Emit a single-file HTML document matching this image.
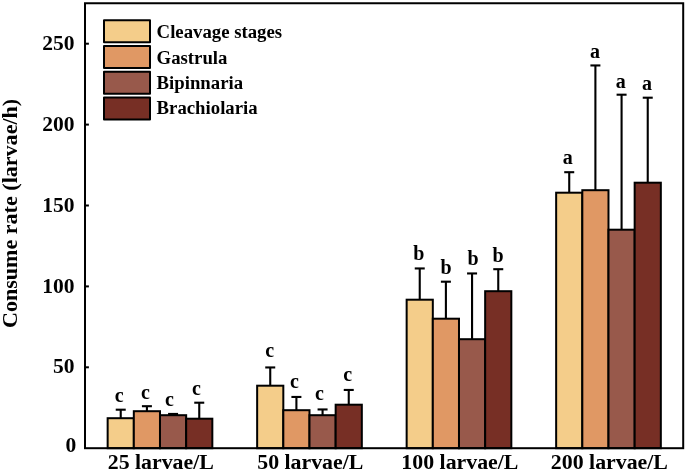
<!DOCTYPE html>
<html><head><meta charset="utf-8"><title>Consume rate</title>
<style>
html,body{margin:0;padding:0;background:#fff;}
svg{display:block;will-change:transform;}
text{font-family:"Liberation Serif","Times New Roman",serif;font-weight:bold;fill:#000;}
</style></head><body>
<svg width="685" height="471" viewBox="0 0 685 471">
<rect width="685" height="471" fill="#fff"/>

<g transform="translate(0.5,0.7)">
<line x1="120.23" y1="417.50" x2="120.23" y2="409.00" stroke="#000" stroke-width="2.1"/>
<line x1="115.23" y1="409.00" x2="125.23" y2="409.00" stroke="#000" stroke-width="2.1"/>
<line x1="146.41" y1="410.50" x2="146.41" y2="405.50" stroke="#000" stroke-width="2.1"/>
<line x1="141.41" y1="405.50" x2="151.41" y2="405.50" stroke="#000" stroke-width="2.1"/>
<line x1="172.58" y1="414.50" x2="172.58" y2="413.25" stroke="#000" stroke-width="2.1"/>
<line x1="167.58" y1="413.25" x2="177.58" y2="413.25" stroke="#000" stroke-width="2.1"/>
<line x1="198.75" y1="418.00" x2="198.75" y2="402.00" stroke="#000" stroke-width="2.1"/>
<line x1="193.75" y1="402.00" x2="203.75" y2="402.00" stroke="#000" stroke-width="2.1"/>
<rect x="107.15" y="417.50" width="26.17" height="30.00" fill="#F4CD8A" stroke="#000" stroke-width="2"/>
<rect x="133.32" y="410.50" width="26.17" height="37.00" fill="#E09864" stroke="#000" stroke-width="2"/>
<rect x="159.49" y="414.50" width="26.17" height="33.00" fill="#98594B" stroke="#000" stroke-width="2"/>
<rect x="185.66" y="418.00" width="26.17" height="29.50" fill="#772F25" stroke="#000" stroke-width="2"/>
<text x="118.75" y="401.00" font-size="20" text-anchor="middle">c</text>
<text x="145.00" y="398.00" font-size="20" text-anchor="middle">c</text>
<text x="169.00" y="405.00" font-size="20" text-anchor="middle">c</text>
<text x="196.00" y="394.00" font-size="20" text-anchor="middle">c</text>
<line x1="269.74" y1="385.00" x2="269.74" y2="366.75" stroke="#000" stroke-width="2.1"/>
<line x1="264.74" y1="366.75" x2="274.74" y2="366.75" stroke="#000" stroke-width="2.1"/>
<line x1="295.90" y1="409.50" x2="295.90" y2="396.25" stroke="#000" stroke-width="2.1"/>
<line x1="290.90" y1="396.25" x2="300.90" y2="396.25" stroke="#000" stroke-width="2.1"/>
<line x1="322.07" y1="414.50" x2="322.07" y2="408.75" stroke="#000" stroke-width="2.1"/>
<line x1="317.07" y1="408.75" x2="327.07" y2="408.75" stroke="#000" stroke-width="2.1"/>
<line x1="348.25" y1="404.00" x2="348.25" y2="389.25" stroke="#000" stroke-width="2.1"/>
<line x1="343.25" y1="389.25" x2="353.25" y2="389.25" stroke="#000" stroke-width="2.1"/>
<rect x="256.65" y="385.00" width="26.17" height="62.50" fill="#F4CD8A" stroke="#000" stroke-width="2"/>
<rect x="282.82" y="409.50" width="26.17" height="38.00" fill="#E09864" stroke="#000" stroke-width="2"/>
<rect x="308.99" y="414.50" width="26.17" height="33.00" fill="#98594B" stroke="#000" stroke-width="2"/>
<rect x="335.16" y="404.00" width="26.17" height="43.50" fill="#772F25" stroke="#000" stroke-width="2"/>
<text x="269.25" y="356.75" font-size="20" text-anchor="middle">c</text>
<text x="294.00" y="387.40" font-size="20" text-anchor="middle">c</text>
<text x="319.00" y="399.25" font-size="20" text-anchor="middle">c</text>
<text x="347.25" y="380.50" font-size="20" text-anchor="middle">c</text>
<line x1="419.24" y1="299.00" x2="419.24" y2="267.75" stroke="#000" stroke-width="2.1"/>
<line x1="414.24" y1="267.75" x2="424.24" y2="267.75" stroke="#000" stroke-width="2.1"/>
<line x1="445.40" y1="318.00" x2="445.40" y2="281.00" stroke="#000" stroke-width="2.1"/>
<line x1="440.40" y1="281.00" x2="450.40" y2="281.00" stroke="#000" stroke-width="2.1"/>
<line x1="471.57" y1="338.50" x2="471.57" y2="272.75" stroke="#000" stroke-width="2.1"/>
<line x1="466.57" y1="272.75" x2="476.57" y2="272.75" stroke="#000" stroke-width="2.1"/>
<line x1="497.75" y1="290.50" x2="497.75" y2="268.50" stroke="#000" stroke-width="2.1"/>
<line x1="492.75" y1="268.50" x2="502.75" y2="268.50" stroke="#000" stroke-width="2.1"/>
<rect x="406.15" y="299.00" width="26.17" height="148.50" fill="#F4CD8A" stroke="#000" stroke-width="2"/>
<rect x="432.32" y="318.00" width="26.17" height="129.50" fill="#E09864" stroke="#000" stroke-width="2"/>
<rect x="458.49" y="338.50" width="26.17" height="109.00" fill="#98594B" stroke="#000" stroke-width="2"/>
<rect x="484.66" y="290.50" width="26.17" height="157.00" fill="#772F25" stroke="#000" stroke-width="2"/>
<text x="418.25" y="259.25" font-size="20" text-anchor="middle">b</text>
<text x="445.50" y="273.75" font-size="20" text-anchor="middle">b</text>
<text x="472.50" y="264.50" font-size="20" text-anchor="middle">b</text>
<text x="497.50" y="261.75" font-size="20" text-anchor="middle">b</text>
<line x1="568.73" y1="192.00" x2="568.73" y2="171.50" stroke="#000" stroke-width="2.1"/>
<line x1="563.73" y1="171.50" x2="573.73" y2="171.50" stroke="#000" stroke-width="2.1"/>
<line x1="594.90" y1="189.50" x2="594.90" y2="64.75" stroke="#000" stroke-width="2.1"/>
<line x1="589.90" y1="64.75" x2="599.90" y2="64.75" stroke="#000" stroke-width="2.1"/>
<line x1="621.08" y1="229.00" x2="621.08" y2="94.00" stroke="#000" stroke-width="2.1"/>
<line x1="616.08" y1="94.00" x2="626.08" y2="94.00" stroke="#000" stroke-width="2.1"/>
<line x1="647.24" y1="182.00" x2="647.24" y2="97.00" stroke="#000" stroke-width="2.1"/>
<line x1="642.24" y1="97.00" x2="652.24" y2="97.00" stroke="#000" stroke-width="2.1"/>
<rect x="555.65" y="192.00" width="26.17" height="255.50" fill="#F4CD8A" stroke="#000" stroke-width="2"/>
<rect x="581.82" y="189.50" width="26.17" height="258.00" fill="#E09864" stroke="#000" stroke-width="2"/>
<rect x="607.99" y="229.00" width="26.17" height="218.50" fill="#98594B" stroke="#000" stroke-width="2"/>
<rect x="634.16" y="182.00" width="26.17" height="265.50" fill="#772F25" stroke="#000" stroke-width="2"/>
<text x="567.25" y="163.25" font-size="20" text-anchor="middle">a</text>
<text x="594.50" y="57.50" font-size="20" text-anchor="middle">a</text>
<text x="620.25" y="87.50" font-size="20" text-anchor="middle">a</text>
<text x="646.50" y="89.50" font-size="20" text-anchor="middle">a</text>
<rect x="84.5" y="2.55" width="598.2" height="444.95" fill="none" stroke="#000" stroke-width="2"/>
<text x="75.8" y="451.8" font-size="21.5" text-anchor="end">0</text>
<line x1="84.5" y1="366.6" x2="88.4" y2="366.6" stroke="#000" stroke-width="2"/>
<text x="74.0" y="372.8" font-size="21.5" text-anchor="end">50</text>
<line x1="84.5" y1="285.7" x2="88.4" y2="285.7" stroke="#000" stroke-width="2"/>
<text x="74.0" y="291.9" font-size="21.5" text-anchor="end">100</text>
<line x1="84.5" y1="204.8" x2="88.4" y2="204.8" stroke="#000" stroke-width="2"/>
<text x="74.0" y="211.0" font-size="21.5" text-anchor="end">150</text>
<line x1="84.5" y1="123.9" x2="88.4" y2="123.9" stroke="#000" stroke-width="2"/>
<text x="74.0" y="130.1" font-size="21.5" text-anchor="end">200</text>
<line x1="84.5" y1="43" x2="88.4" y2="43" stroke="#000" stroke-width="2"/>
<text x="74.0" y="49.2" font-size="21.5" text-anchor="end">250</text>
<text x="160.3" y="468.2" font-size="21.85" text-anchor="middle">25 larvae/L</text>
<text x="309.8" y="468.2" font-size="21.85" text-anchor="middle">50 larvae/L</text>
<text x="459.4" y="468.2" font-size="21.85" text-anchor="middle">100 larvae/L</text>
<text x="608.9" y="468.2" font-size="21.85" text-anchor="middle">200 larvae/L</text>
</g>
<text transform="translate(17.0,213.4) rotate(-90) scale(1.022,1)" font-size="21.6" text-anchor="middle">Consume rate (larvae/h)</text>
<rect x="104" y="20.35" width="46" height="21.949999999999996" fill="#F4CD8A" stroke="#000" stroke-width="2" stroke-linejoin="round"/>
<text x="156.6" y="38.2" font-size="18.75">Cleavage stages</text>
<rect x="104" y="46.05" width="46" height="21.950000000000003" fill="#E09864" stroke="#000" stroke-width="2" stroke-linejoin="round"/>
<text x="156.6" y="63.9" font-size="18.75">Gastrula</text>
<rect x="104" y="71.75" width="46" height="21.950000000000003" fill="#98594B" stroke="#000" stroke-width="2" stroke-linejoin="round"/>
<text x="156.6" y="89.1" font-size="18.75">Bipinnaria</text>
<rect x="104" y="97.44999999999999" width="46" height="21.950000000000003" fill="#772F25" stroke="#000" stroke-width="2" stroke-linejoin="round"/>
<text x="156.6" y="114.3" font-size="18.75">Brachiolaria</text>
</svg></body></html>
